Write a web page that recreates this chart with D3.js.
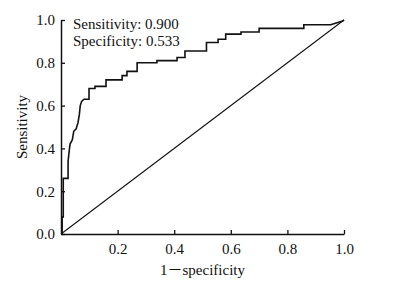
<!DOCTYPE html>
<html>
<head>
<meta charset="utf-8">
<script src="https://cdn.jsdelivr.net/npm/d3@7"></script>
<style>
  body { margin: 0; background: #fff; }
  svg text { font-family: "Liberation Serif", "Noto Sans CJK SC", serif; fill: #111; }
</style>
</head>
<body>
<div id="chart"></div>
<script>
// ROC curve corner points (1 - specificity, sensitivity)
const fprValues = [0, 0.004, 0.004, 0.008, 0.008, 0.025, 0.025, 0.030, 0.032, 0.040, 0.045, 0.053,
    0.060, 0.065, 0.068, 0.073, 0.081, 0.099, 0.099, 0.120, 0.120, 0.159, 0.159, 0.216, 0.216,
    0.233, 0.233, 0.269, 0.269, 0.339, 0.339, 0.410, 0.410, 0.438, 0.438, 0.514, 0.514, 0.555,
    0.555, 0.582, 0.582, 0.636, 0.636, 0.700, 0.700, 0.858, 0.858, 0.953, 0.995, 1];
const tprValues = [0, 0, 0.08, 0.08, 0.26, 0.26, 0.34, 0.40, 0.42, 0.44, 0.48, 0.49,
    0.52, 0.56, 0.60, 0.62, 0.63, 0.63, 0.68, 0.68, 0.69, 0.69, 0.72, 0.72, 0.74,
    0.74, 0.76, 0.76, 0.80, 0.80, 0.81, 0.81, 0.825, 0.825, 0.855, 0.855, 0.895, 0.895,
    0.91, 0.91, 0.934, 0.934, 0.944, 0.944, 0.961, 0.961, 0.978, 0.978, 0.995, 1];
const xTicks = [0.2, 0.4, 0.6, 0.8, 1.0];
const yTicks = [0, 0.2, 0.4, 0.6, 0.8, 1.0];
const annotations = ['Sensitivity: 0.900', 'Specificity: 0.533'];

const width = 403, height = 282;
const margin = { left: 61, right: 59, top: 20, bottom: 48 };
const serif = '"Liberation Serif", "Noto Sans CJK SC", serif';

const svg = d3.select('#chart').append('svg')
    .attr('width', width)
    .attr('height', height);

const x = d3.scaleLinear().domain([0, 1]).range([margin.left, width - margin.right]);
const y = d3.scaleLinear().domain([0, 1]).range([height - margin.bottom, margin.top]);

// Axes
const xAxis = d3.axisBottom(x)
    .tickValues(xTicks)
    .tickFormat(d3.format('.1f'))
    .tickSizeInner(-4)
    .tickSizeOuter(0)
    .tickPadding(9);

const yAxis = d3.axisLeft(y)
    .tickValues(yTicks)
    .tickFormat(d3.format('.1f'))
    .tickSizeInner(-4)
    .tickSizeOuter(0)
    .tickPadding(6);

const gx = svg.append('g')
    .attr('transform', `translate(0,${y(0)})`)
    .call(xAxis);

const gy = svg.append('g')
    .attr('transform', `translate(${x(0)},0)`)
    .call(yAxis);

[gx, gy].forEach(g => {
    g.attr('font-family', serif).attr('font-size', 15);
    g.select('.domain').attr('stroke', '#111').attr('stroke-width', 1.5);
    g.selectAll('.tick line').attr('stroke', '#111').attr('stroke-width', 1.3);
    g.selectAll('.tick text').attr('fill', '#222');
});

// Reference diagonal
svg.append('line')
    .attr('x1', x(0)).attr('y1', y(0))
    .attr('x2', x(1)).attr('y2', y(1))
    .attr('stroke', '#111')
    .attr('stroke-width', 1.1);

// ROC curve
const rocData = fprValues.map((f, i) => ({ fpr: f, tpr: tprValues[i] }));
const line = d3.line()
    .x(d => x(d.fpr))
    .y(d => y(d.tpr));

svg.append('path')
    .datum(rocData)
    .attr('d', line)
    .attr('fill', 'none')
    .attr('stroke', '#111')
    .attr('stroke-width', 1.6)
    .attr('stroke-linejoin', 'miter');

// Annotation
svg.selectAll('.note')
    .data(annotations)
    .enter()
    .append('text')
    .attr('class', 'note')
    .attr('x', 73)
    .attr('y', (d, i) => 29 + i * 17)
    .style('font-size', '15px')
    .text(d => d);

// Axis titles
svg.append('text')
    .attr('x', (x(0) + x(1)) / 2)
    .attr('y', 275)
    .attr('text-anchor', 'middle')
    .style('font-size', '15px')
    .text('1－specificity');

svg.append('text')
    .attr('transform', `translate(27,${(y(0) + y(1)) / 2}) rotate(-90)`)
    .attr('text-anchor', 'middle')
    .style('font-size', '15px')
    .text('Sensitivity');
</script>
</body>
</html>
